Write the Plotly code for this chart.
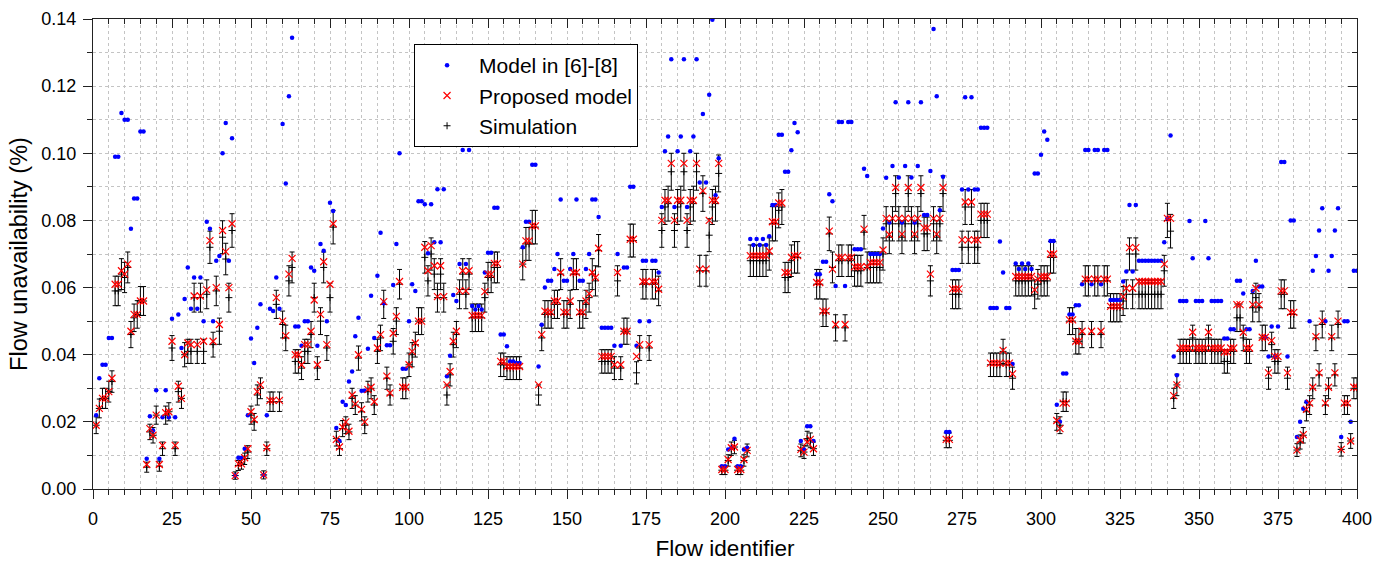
import plotly.graph_objects as go

flow_ids = list(range(1, 401))

model_ref = [
    0.022, 0.033, 0.037, 0.037, 0.045, 0.045, 0.099, 0.099, 0.112, 0.110,
    0.110, 0.0775, 0.0865, 0.0865, 0.1065, 0.1065, 0.009, 0.0217, 0.0174, 0.0294,
    0.009, 0.0214, 0.0294, 0.0214, 0.0507, 0.0214, 0.052, 0.042, 0.0566, 0.066,
    0.0537, 0.063, 0.0537, 0.063, 0.050, 0.0796, 0.0775, 0.050, 0.068, 0.0694,
    0.100, 0.109, 0.068, 0.1045, 0.004, 0.0093, 0.0093, 0.012, 0.022, 0.0448,
    0.0375, 0.048, 0.055, 0.0042, 0.022, 0.0537, 0.053, 0.063, 0.0537, 0.1087,
    0.091, 0.117, 0.1344, 0.0484, 0.0484, 0.0427, 0.050, 0.050, 0.066, 0.065,
    0.0427, 0.073, 0.071, 0.050, 0.0853, 0.0828, 0.0182, 0.0143, 0.026, 0.025,
    0.032, 0.035, 0.0455, 0.051, 0.0293, 0.0293, 0.0418, 0.0576, 0.045, 0.0635,
    0.0763, 0.0553, 0.0428, 0.0428, 0.0608, 0.073, 0.100, 0.0358, 0.0358, 0.050,
    0.061, 0.059, 0.0857, 0.0857, 0.0848, 0.0702, 0.0848, 0.0735, 0.0893, 0.0735,
    0.0893, 0.0336, 0.0397, 0.0578, 0.056, 0.067, 0.101, 0.067, 0.101, 0.0545,
    0.0535, 0.0545, 0.0535, 0.0645, 0.0704, 0.0704, 0.0838, 0.0838, 0.046, 0.046,
    0.0425, 0.038, 0.038, 0.0375, 0.0375, 0.072, 0.0796, 0.0796, 0.0966, 0.0966,
    0.0365, 0.0489, 0.060, 0.062, 0.062, 0.0655, 0.070, 0.0862, 0.062, 0.062,
    0.0655, 0.070, 0.0862, 0.062, 0.062, 0.0655, 0.070, 0.0862, 0.0862, 0.081,
    0.048, 0.048, 0.048, 0.048, 0.0427, 0.070, 0.0427, 0.066, 0.066, 0.090,
    0.090, 0.0427, 0.050, 0.068, 0.068, 0.050, 0.068, 0.068, 0.0645, 0.084,
    0.1006, 0.105, 0.128, 0.084, 0.1006, 0.105, 0.128, 0.084, 0.1006, 0.105,
    0.128, 0.0913, 0.1117, 0.0913, 0.1174, 0.1398, 0.0875, 0.0985, 0.0068, 0.0068,
    0.0118, 0.0123, 0.015, 0.0068, 0.0068, 0.0118, 0.0123, 0.0745, 0.0727, 0.0745,
    0.0727, 0.0745, 0.0727, 0.0753, 0.0846, 0.0846, 0.1055, 0.1055, 0.0945, 0.0945,
    0.1009, 0.109, 0.1063, 0.0143, 0.0118, 0.0187, 0.0187, 0.0143, 0.064, 0.064,
    0.0677, 0.0677, 0.0878, 0.0857, 0.0605, 0.1093, 0.1093, 0.0605, 0.1093, 0.1093,
    0.0714, 0.0714, 0.0714, 0.0954, 0.0932, 0.070, 0.070, 0.070, 0.070, 0.0776,
    0.0927, 0.0794, 0.0962, 0.1152, 0.0928, 0.0794, 0.0962, 0.1152, 0.0928, 0.0794,
    0.0962, 0.1152, 0.0816, 0.0816, 0.0947, 0.137, 0.117, 0.083, 0.093, 0.017,
    0.017, 0.0652, 0.0652, 0.0652, 0.0892, 0.1167, 0.0892, 0.1167, 0.0892, 0.0892,
    0.1076, 0.1076, 0.1076, 0.0539, 0.0539, 0.0539, 0.0737, 0.0645, 0.0539, 0.0539,
    0.0372, 0.0672, 0.0655, 0.0672, 0.0655, 0.0672, 0.0655, 0.094, 0.094, 0.0996,
    0.1065, 0.104, 0.0739, 0.0739, 0.0251, 0.020, 0.0344, 0.0344, 0.052, 0.052,
    0.0547, 0.0547, 0.061, 0.101, 0.101, 0.061, 0.101, 0.101, 0.061, 0.101,
    0.101, 0.0563, 0.0563, 0.0563, 0.0563, 0.0618, 0.0648, 0.0846, 0.0648, 0.0846,
    0.068, 0.068, 0.068, 0.068, 0.068, 0.068, 0.068, 0.068, 0.0735, 0.0806,
    0.1053, 0.0395, 0.0339, 0.056, 0.056, 0.056, 0.0798, 0.0687, 0.056, 0.056,
    0.056, 0.0798, 0.0687, 0.056, 0.056, 0.056, 0.056, 0.0448, 0.0448, 0.0476,
    0.0476, 0.062, 0.062, 0.0582, 0.0476, 0.0476, 0.059, 0.068, 0.0603, 0.0603,
    0.0452, 0.0395, 0.0484, 0.0395, 0.0484, 0.0974, 0.0974, 0.0395, 0.080, 0.080,
    0.0155, 0.020, 0.0239, 0.026, 0.050, 0.065, 0.0694, 0.077, 0.0836, 0.050,
    0.065, 0.0694, 0.077, 0.0836, 0.0155, 0.050, 0.050, 0.020, 0.065, 0.065,
]

proposed = [
    0.019, 0.024, 0.027, 0.027, 0.029, 0.033, 0.061, 0.061, 0.065, 0.064,
    0.067, 0.047, 0.052, 0.052, 0.056, 0.056, 0.0073, 0.018, 0.016, 0.022,
    0.0073, 0.013, 0.0227, 0.023, 0.044, 0.013, 0.0306, 0.027, 0.040, 0.0435,
    0.043, 0.0575, 0.043, 0.0575, 0.044, 0.0593, 0.074, 0.044, 0.060, 0.049,
    0.077, 0.0707, 0.060, 0.079, 0.004, 0.0075, 0.0075, 0.0093, 0.012, 0.023,
    0.0207, 0.029, 0.031, 0.0042, 0.0123, 0.0264, 0.0264, 0.057, 0.0264, 0.050,
    0.0457, 0.064, 0.0687, 0.040, 0.040, 0.037, 0.043, 0.043, 0.047, 0.0563,
    0.037, 0.052, 0.0677, 0.043, 0.061, 0.079, 0.0148, 0.0125, 0.0184, 0.020,
    0.0172, 0.028, 0.0253, 0.040, 0.0237, 0.020, 0.0296, 0.0303, 0.026, 0.042,
    0.046, 0.0558, 0.0336, 0.0286, 0.0464, 0.0514, 0.0618, 0.0303, 0.0303, 0.037,
    0.041, 0.0435, 0.050, 0.050, 0.072, 0.065, 0.0725, 0.0665, 0.0573, 0.0665,
    0.0573, 0.031, 0.035, 0.044, 0.047, 0.059, 0.065, 0.059, 0.065, 0.0517,
    0.0517, 0.0517, 0.0517, 0.0588, 0.064, 0.064, 0.0672, 0.0672, 0.038, 0.038,
    0.0365, 0.0365, 0.0365, 0.0365, 0.0365, 0.067, 0.0739, 0.0739, 0.0784, 0.0784,
    0.031, 0.046, 0.053, 0.0527, 0.0527, 0.056, 0.056, 0.0645, 0.0527, 0.0527,
    0.056, 0.0645, 0.0645, 0.0527, 0.0527, 0.056, 0.0582, 0.0645, 0.063, 0.0717,
    0.0395, 0.0395, 0.0395, 0.0395, 0.037, 0.0645, 0.037, 0.047, 0.047, 0.0744,
    0.0744, 0.0395, 0.043, 0.0618, 0.0618, 0.043, 0.0618, 0.0618, 0.0595, 0.080,
    0.086, 0.086, 0.097, 0.080, 0.086, 0.086, 0.097, 0.080, 0.086, 0.086,
    0.097, 0.0655, 0.0888, 0.0655, 0.080, 0.086, 0.086, 0.097, 0.0058, 0.0058,
    0.0088, 0.0123, 0.0125, 0.0058, 0.0058, 0.0088, 0.0115, 0.0695, 0.0695, 0.0695,
    0.0695, 0.0695, 0.0695, 0.0709, 0.0796, 0.0796, 0.0852, 0.0852, 0.0645, 0.0645,
    0.069, 0.0695, 0.0695, 0.0118, 0.011, 0.014, 0.0148, 0.012, 0.0615, 0.0615,
    0.053, 0.053, 0.0768, 0.0655, 0.049, 0.069, 0.069, 0.049, 0.069, 0.069,
    0.0662, 0.0662, 0.0662, 0.0774, 0.0662, 0.0675, 0.0675, 0.0675, 0.0675, 0.0712,
    0.0806, 0.0758, 0.0806, 0.0898, 0.0806, 0.0759, 0.0806, 0.0898, 0.0806, 0.0759,
    0.0806, 0.0898, 0.0778, 0.0778, 0.064, 0.0806, 0.0759, 0.0806, 0.0898, 0.0148,
    0.0148, 0.0596, 0.0596, 0.0596, 0.0742, 0.0855, 0.0742, 0.0855, 0.0742, 0.0742,
    0.0819, 0.0819, 0.0819, 0.0375, 0.0375, 0.0375, 0.0375, 0.0413, 0.0375, 0.0375,
    0.0343, 0.0633, 0.0633, 0.0633, 0.0633, 0.0633, 0.0633, 0.0593, 0.0625, 0.0633,
    0.0633, 0.0633, 0.070, 0.070, 0.0204, 0.018, 0.0256, 0.0256, 0.0504, 0.0504,
    0.044, 0.044, 0.047, 0.0625, 0.0625, 0.047, 0.0625, 0.0625, 0.047, 0.0625,
    0.0625, 0.0544, 0.0544, 0.0544, 0.0544, 0.0573, 0.0598, 0.0719, 0.0598, 0.0719,
    0.0618, 0.0618, 0.0618, 0.0618, 0.0618, 0.0618, 0.0618, 0.0618, 0.067, 0.0806,
    0.0806, 0.0278, 0.031, 0.042, 0.042, 0.042, 0.042, 0.0467, 0.042, 0.042,
    0.042, 0.042, 0.0467, 0.042, 0.042, 0.042, 0.042, 0.0408, 0.0408, 0.042,
    0.042, 0.0549, 0.0549, 0.0467, 0.042, 0.042, 0.0549, 0.0598, 0.0549, 0.0452,
    0.0452, 0.0346, 0.0442, 0.0395, 0.0395, 0.059, 0.059, 0.0346, 0.0526, 0.0526,
    0.0116, 0.0146, 0.0162, 0.0237, 0.0256, 0.0303, 0.0454, 0.0346, 0.050, 0.0256,
    0.0303, 0.0454, 0.0346, 0.050, 0.0118, 0.0256, 0.0256, 0.0143, 0.0303, 0.0303,
]

simulation = [
    0.019, 0.024, 0.027, 0.027, 0.029, 0.032, 0.059, 0.059, 0.064, 0.063,
    0.066, 0.046, 0.051, 0.052, 0.056, 0.056, 0.0065, 0.017, 0.016, 0.022,
    0.0068, 0.012, 0.022, 0.023, 0.042, 0.012, 0.029, 0.027, 0.040, 0.041,
    0.041, 0.057, 0.041, 0.057, 0.041, 0.058, 0.072, 0.043, 0.059, 0.047,
    0.075, 0.0685, 0.057, 0.077, 0.004, 0.007, 0.0075, 0.009, 0.011, 0.022,
    0.020, 0.028, 0.030, 0.0042, 0.012, 0.026, 0.026, 0.055, 0.026, 0.049,
    0.045, 0.062, 0.066, 0.038, 0.038, 0.036, 0.041, 0.041, 0.046, 0.057,
    0.036, 0.050, 0.066, 0.042, 0.057, 0.078, 0.015, 0.012, 0.018, 0.019,
    0.017, 0.027, 0.025, 0.039, 0.023, 0.019, 0.029, 0.030, 0.025, 0.041,
    0.045, 0.055, 0.033, 0.028, 0.044, 0.050, 0.061, 0.030, 0.030, 0.037,
    0.040, 0.043, 0.050, 0.050, 0.069, 0.062, 0.070, 0.064, 0.057, 0.064,
    0.057, 0.028, 0.034, 0.043, 0.046, 0.058, 0.064, 0.058, 0.064, 0.051,
    0.051, 0.051, 0.051, 0.057, 0.063, 0.063, 0.066, 0.066, 0.037, 0.037,
    0.036, 0.036, 0.036, 0.036, 0.036, 0.067, 0.073, 0.073, 0.078, 0.078,
    0.028, 0.045, 0.052, 0.052, 0.052, 0.055, 0.055, 0.064, 0.052, 0.052,
    0.055, 0.064, 0.064, 0.052, 0.052, 0.055, 0.057, 0.064, 0.062, 0.071,
    0.038, 0.038, 0.038, 0.038, 0.036, 0.062, 0.036, 0.047, 0.047, 0.074,
    0.074, 0.0346, 0.042, 0.061, 0.061, 0.042, 0.061, 0.061, 0.059, 0.077,
    0.084, 0.085, 0.0945, 0.077, 0.084, 0.085, 0.0945, 0.077, 0.084, 0.085,
    0.0945, 0.065, 0.088, 0.065, 0.0756, 0.084, 0.085, 0.094, 0.0056, 0.0056,
    0.0085, 0.012, 0.0125, 0.0056, 0.0056, 0.0085, 0.0115, 0.068, 0.068, 0.068,
    0.068, 0.068, 0.068, 0.070, 0.079, 0.079, 0.083, 0.084, 0.063, 0.063,
    0.068, 0.069, 0.069, 0.0115, 0.011, 0.015, 0.0145, 0.012, 0.061, 0.061,
    0.0525, 0.0525, 0.076, 0.066, 0.048, 0.068, 0.068, 0.048, 0.068, 0.068,
    0.065, 0.065, 0.065, 0.0765, 0.066, 0.066, 0.066, 0.066, 0.066, 0.070,
    0.079, 0.075, 0.079, 0.088, 0.079, 0.075, 0.079, 0.088, 0.079, 0.075,
    0.079, 0.088, 0.076, 0.076, 0.062, 0.079, 0.075, 0.079, 0.088, 0.0145,
    0.0145, 0.058, 0.058, 0.058, 0.072, 0.084, 0.072, 0.084, 0.072, 0.072,
    0.080, 0.080, 0.080, 0.037, 0.037, 0.037, 0.037, 0.041, 0.037, 0.037,
    0.033, 0.062, 0.062, 0.062, 0.062, 0.062, 0.062, 0.058, 0.061, 0.062,
    0.062, 0.062, 0.069, 0.069, 0.020, 0.019, 0.026, 0.026, 0.050, 0.050,
    0.044, 0.044, 0.046, 0.062, 0.062, 0.046, 0.062, 0.062, 0.046, 0.062,
    0.062, 0.054, 0.054, 0.054, 0.054, 0.056, 0.058, 0.070, 0.058, 0.070,
    0.058, 0.058, 0.058, 0.058, 0.058, 0.058, 0.058, 0.058, 0.065, 0.080,
    0.0768, 0.027, 0.031, 0.041, 0.041, 0.041, 0.041, 0.045, 0.041, 0.041,
    0.041, 0.041, 0.045, 0.041, 0.041, 0.041, 0.041, 0.038, 0.038, 0.041,
    0.041, 0.051, 0.051, 0.045, 0.041, 0.041, 0.054, 0.057, 0.054, 0.045,
    0.045, 0.033, 0.043, 0.038, 0.038, 0.058, 0.058, 0.033, 0.052, 0.052,
    0.0116, 0.014, 0.016, 0.023, 0.025, 0.030, 0.045, 0.034, 0.049, 0.025,
    0.030, 0.045, 0.034, 0.049, 0.0118, 0.025, 0.025, 0.0143, 0.030, 0.030,
]

sim_ci_half = [
    0.0025, 0.0028, 0.0030, 0.0030, 0.0031, 0.0032, 0.0044, 0.0044, 0.0046, 0.0045,
    0.0046, 0.0039, 0.0041, 0.0041, 0.0043, 0.0043, 0.0015, 0.0023, 0.0023, 0.0027,
    0.0015, 0.0020, 0.0027, 0.0027, 0.0037, 0.0020, 0.0031, 0.0030, 0.0036, 0.0036,
    0.0036, 0.0043, 0.0036, 0.0043, 0.0036, 0.0043, 0.0048, 0.0037, 0.0044, 0.0039,
    0.0049, 0.0047, 0.0043, 0.0050, 0.0011, 0.0015, 0.0016, 0.0017, 0.0019, 0.0027,
    0.0025, 0.0030, 0.0031, 0.0012, 0.0020, 0.0029, 0.0029, 0.0042, 0.0029, 0.0040,
    0.0038, 0.0045, 0.0046, 0.0035, 0.0035, 0.0034, 0.0036, 0.0036, 0.0039, 0.0043,
    0.0034, 0.0040, 0.0046, 0.0037, 0.0043, 0.0050, 0.0022, 0.0020, 0.0024, 0.0025,
    0.0023, 0.0030, 0.0028, 0.0036, 0.0027, 0.0025, 0.0031, 0.0031, 0.0028, 0.0036,
    0.0038, 0.0042, 0.0033, 0.0030, 0.0038, 0.0040, 0.0044, 0.0031, 0.0031, 0.0035,
    0.0036, 0.0037, 0.0040, 0.0040, 0.0047, 0.0045, 0.0048, 0.0046, 0.0043, 0.0046,
    0.0043, 0.0030, 0.0033, 0.0037, 0.0039, 0.0043, 0.0046, 0.0043, 0.0046, 0.0041,
    0.0041, 0.0041, 0.0041, 0.0043, 0.0045, 0.0045, 0.0046, 0.0046, 0.0035, 0.0035,
    0.0034, 0.0034, 0.0034, 0.0034, 0.0034, 0.0047, 0.0049, 0.0049, 0.0050, 0.0050,
    0.0030, 0.0038, 0.0041, 0.0041, 0.0041, 0.0042, 0.0042, 0.0046, 0.0041, 0.0041,
    0.0042, 0.0046, 0.0046, 0.0041, 0.0041, 0.0042, 0.0043, 0.0046, 0.0045, 0.0048,
    0.0035, 0.0035, 0.0035, 0.0035, 0.0034, 0.0045, 0.0034, 0.0039, 0.0039, 0.0049,
    0.0049, 0.0033, 0.0037, 0.0044, 0.0044, 0.0037, 0.0044, 0.0044, 0.0044, 0.0050,
    0.0052, 0.0052, 0.0055, 0.0050, 0.0052, 0.0052, 0.0055, 0.0050, 0.0052, 0.0052,
    0.0055, 0.0046, 0.0053, 0.0046, 0.0049, 0.0052, 0.0052, 0.0055, 0.0013, 0.0013,
    0.0017, 0.0020, 0.0020, 0.0013, 0.0013, 0.0017, 0.0019, 0.0047, 0.0047, 0.0047,
    0.0047, 0.0047, 0.0047, 0.0048, 0.0051, 0.0051, 0.0052, 0.0052, 0.0045, 0.0045,
    0.0047, 0.0047, 0.0047, 0.0019, 0.0019, 0.0022, 0.0022, 0.0020, 0.0044, 0.0044,
    0.0041, 0.0041, 0.0050, 0.0046, 0.0039, 0.0047, 0.0047, 0.0039, 0.0047, 0.0047,
    0.0046, 0.0046, 0.0046, 0.0050, 0.0046, 0.0046, 0.0046, 0.0046, 0.0046, 0.0048,
    0.0051, 0.0049, 0.0051, 0.0053, 0.0051, 0.0049, 0.0051, 0.0053, 0.0051, 0.0049,
    0.0051, 0.0053, 0.0050, 0.0050, 0.0045, 0.0051, 0.0049, 0.0051, 0.0053, 0.0022,
    0.0022, 0.0043, 0.0043, 0.0043, 0.0048, 0.0052, 0.0048, 0.0052, 0.0048, 0.0048,
    0.0051, 0.0051, 0.0051, 0.0035, 0.0035, 0.0035, 0.0035, 0.0036, 0.0035, 0.0035,
    0.0033, 0.0045, 0.0045, 0.0045, 0.0045, 0.0045, 0.0045, 0.0043, 0.0044, 0.0045,
    0.0045, 0.0045, 0.0047, 0.0047, 0.0025, 0.0025, 0.0029, 0.0029, 0.0040, 0.0040,
    0.0038, 0.0038, 0.0039, 0.0045, 0.0045, 0.0039, 0.0045, 0.0045, 0.0039, 0.0045,
    0.0045, 0.0042, 0.0042, 0.0042, 0.0042, 0.0043, 0.0043, 0.0048, 0.0043, 0.0048,
    0.0043, 0.0043, 0.0043, 0.0043, 0.0043, 0.0043, 0.0043, 0.0043, 0.0046, 0.0051,
    0.0050, 0.0030, 0.0032, 0.0036, 0.0036, 0.0036, 0.0036, 0.0038, 0.0036, 0.0036,
    0.0036, 0.0036, 0.0038, 0.0036, 0.0036, 0.0036, 0.0036, 0.0035, 0.0035, 0.0036,
    0.0036, 0.0041, 0.0041, 0.0038, 0.0036, 0.0036, 0.0042, 0.0043, 0.0042, 0.0038,
    0.0038, 0.0033, 0.0037, 0.0035, 0.0035, 0.0043, 0.0043, 0.0033, 0.0041, 0.0041,
    0.0019, 0.0021, 0.0023, 0.0027, 0.0028, 0.0031, 0.0038, 0.0033, 0.0040, 0.0028,
    0.0031, 0.0038, 0.0033, 0.0040, 0.0020, 0.0028, 0.0028, 0.0022, 0.0031, 0.0031,
]

x_tick_vals = [0, 25, 50, 75, 100, 125, 150, 175, 200, 225, 250, 275, 300, 325, 350, 375, 400]
y_tick_vals = [0.00, 0.02, 0.04, 0.06, 0.08, 0.10, 0.12, 0.14]
y_tick_text = ["0.00", "0.02", "0.04", "0.06", "0.08", "0.10", "0.12", "0.14"]

FONT = "Liberation Sans, Arial, Helvetica, sans-serif"
GRID = "#c4c4c4"
AXIS = "#222222"

fig = go.Figure()

fig.add_trace(go.Scatter(
    x=flow_ids, y=simulation, mode="markers", name="Simulation", legendrank=3,
    marker=dict(symbol="cross-thin", size=5, color="black",
                line=dict(width=1, color="black")),
    error_y=dict(type="data", array=sim_ci_half, visible=True,
                 color="black", thickness=1, width=2.5),
))
fig.add_trace(go.Scatter(
    x=flow_ids, y=model_ref, mode="markers", name="Model in [6]-[8]", legendrank=1,
    marker=dict(symbol="circle", size=4.5, color="#0000ff"),
))
fig.add_trace(go.Scatter(
    x=flow_ids, y=proposed, mode="markers", name="Proposed model", legendrank=2,
    marker=dict(symbol="x-thin", size=7, color="#ff0000",
                line=dict(width=1.2, color="#ff0000")),
))
# empty trace that carries the mirrored top/right axes
fig.add_trace(go.Scatter(x=[], y=[], xaxis="x2", yaxis="y2",
                         showlegend=False, hoverinfo="skip"))

common_axis = dict(
    showline=True, linecolor=AXIS, linewidth=1.3, automargin=False,
    zeroline=False, ticks="outside", tickcolor=AXIS, tickwidth=1, ticklen=9,
    tickfont=dict(family=FONT, size=18, color="black"),
    showgrid=True, gridcolor=GRID, griddash="dot", gridwidth=1,
)

fig.update_layout(
    width=1387, height=561,
    margin=dict(l=93, r=30, t=19, b=72, autoexpand=False),
    paper_bgcolor="white", plot_bgcolor="white",
    font=dict(family=FONT, size=18, color="black"),
    showlegend=True,
    legend=dict(x=0.254, y=0.9468, xanchor="left", yanchor="top",
                bgcolor="white", bordercolor="black", borderwidth=1,
                font=dict(family=FONT, size=21, color="black"),
                tracegroupgap=0, itemsizing="trace", itemwidth=54),
    xaxis=dict(
        **common_axis,
        range=[0, 400], tickvals=x_tick_vals, ticklabelstandoff=4,
        minor=dict(dtick=5, tick0=0, ticks="outside", ticklen=5, tickcolor=AXIS,
                   showgrid=True, gridcolor=GRID, griddash="dot", gridwidth=1),
        title=dict(text="Flow identifier", font=dict(family=FONT, size=22.5), standoff=12),
    ),
    yaxis=dict(
        **common_axis,
        range=[0, 0.14], tickvals=y_tick_vals, ticktext=y_tick_text, ticklabelstandoff=3,
        minor=dict(dtick=0.01, tick0=0, ticks="outside", ticklen=5, tickcolor=AXIS,
                   showgrid=True, gridcolor=GRID, griddash="dot", gridwidth=1),
        title=dict(text="Flow unavailability (%)", font=dict(family=FONT, size=23.5), standoff=6),
    ),
    xaxis2=dict(
        overlaying="x", side="top", anchor="y", range=[0, 400], tickvals=x_tick_vals,
        showline=True, linecolor=AXIS, linewidth=1.3, ticks="inside", ticklen=9,
        tickcolor=AXIS, showticklabels=False, showgrid=False, zeroline=False,
        automargin=False,
        minor=dict(dtick=5, tick0=0, ticks="inside", ticklen=5, tickcolor=AXIS, showgrid=False),
    ),
    yaxis2=dict(
        overlaying="y", side="right", anchor="x", range=[0, 0.14], tickvals=y_tick_vals,
        showline=True, linecolor=AXIS, linewidth=1.3, ticks="inside", ticklen=9,
        tickcolor=AXIS, showticklabels=False, showgrid=False, zeroline=False,
        automargin=False,
        minor=dict(dtick=0.01, tick0=0, ticks="inside", ticklen=5, tickcolor=AXIS, showgrid=False),
    ),
)

fig.write_html("out.html")
